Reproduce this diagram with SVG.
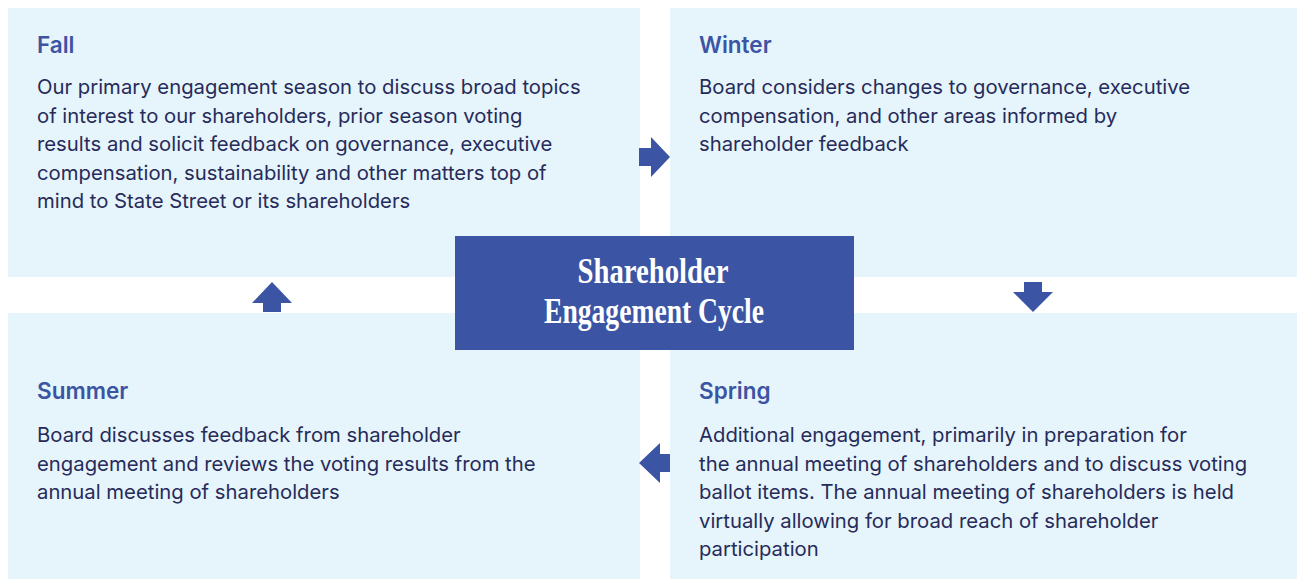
<svg xmlns="http://www.w3.org/2000/svg" width="1297" height="579" viewBox="0 0 1297 579">
<style>
.panel{fill:#E6F4FB}
.title{font-family:Inter,"Liberation Sans",sans-serif;font-size:22.5px;font-weight:600;fill:#3B54A4}
.body{font-family:Inter,"Liberation Sans",sans-serif;font-size:20.3px;fill:#262B5A}
.arrow{fill:#3B54A4}
.center-text{font-family:"Liberation Serif",serif;font-weight:bold;font-size:36px;fill:#FFFFFF}
</style>
<rect width="1297" height="579" fill="#FFFFFF"/>
<g id="fall">
<rect class="panel" x="8" y="8" width="632" height="269"/>
<text class="title" x="37" y="53">Fall</text>
<text class="body" x="37" y="94">Our primary engagement season to discuss broad topics</text>
<text class="body" x="37" y="122.5">of interest to our shareholders, prior season voting</text>
<text class="body" x="37" y="151">results and solicit feedback on governance, executive</text>
<text class="body" x="37" y="179.5">compensation, sustainability and other matters top of</text>
<text class="body" x="37" y="208">mind to State Street or its shareholders</text>
</g>
<g id="winter">
<rect class="panel" x="670" y="8" width="627" height="269"/>
<text class="title" x="699" y="53">Winter</text>
<text class="body" x="699" y="94">Board considers changes to governance, executive</text>
<text class="body" x="699" y="122.5">compensation, and other areas informed by</text>
<text class="body" x="699" y="151">shareholder feedback</text>
</g>
<g id="summer">
<rect class="panel" x="8" y="313" width="632" height="266"/>
<text class="title" x="37" y="399">Summer</text>
<text class="body" x="37" y="442">Board discusses feedback from shareholder</text>
<text class="body" x="37" y="470.5">engagement and reviews the voting results from the</text>
<text class="body" x="37" y="499">annual meeting of shareholders</text>
</g>
<g id="spring">
<rect class="panel" x="670" y="313" width="627" height="266"/>
<text class="title" x="699" y="399">Spring</text>
<text class="body" x="699" y="442">Additional engagement, primarily in preparation for</text>
<text class="body" x="699" y="470.5">the annual meeting of shareholders and to discuss voting</text>
<text class="body" x="699" y="499">ballot items. The annual meeting of shareholders is held</text>
<text class="body" x="699" y="527.5">virtually allowing for broad reach of shareholder</text>
<text class="body" x="699" y="556">participation</text>
</g>
<g id="center">
<rect x="455" y="236" width="399" height="114" fill="#3B54A4"/>
<text class="center-text" x="653" y="283" text-anchor="middle" textLength="151" lengthAdjust="spacingAndGlyphs">Shareholder</text>
<text class="center-text" x="654" y="323" text-anchor="middle" textLength="220" lengthAdjust="spacingAndGlyphs">Engagement Cycle</text>
</g>
<g id="connectors">
<polygon class="arrow" points="639,148 651,148 651,137 670,157 651,177 651,166 639,166"/>
<polygon class="arrow" points="1024,282 1042,282 1042,292 1053,292 1033,312 1013,292 1024,292"/>
<polygon class="arrow" points="670,454 660,454 660,443 639,463 660,483 660,472 670,472"/>
<polygon class="arrow" points="263,312 281,312 281,303 292,303 272,282 252,303 263,303"/>
</g>
</svg>
